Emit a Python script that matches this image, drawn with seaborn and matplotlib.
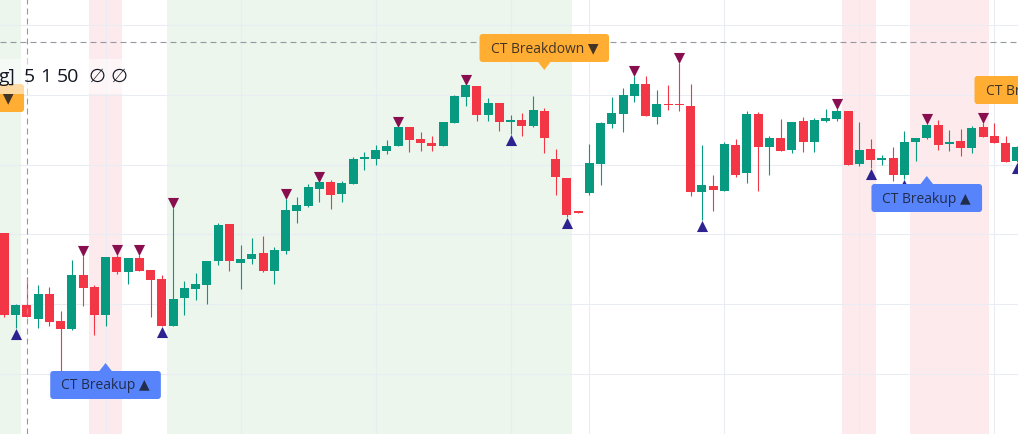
import matplotlib
matplotlib.use('Agg')
import numpy as np
import pandas as pd
import seaborn as sns
import matplotlib.pyplot as plt
import matplotlib.transforms as mtransforms
from matplotlib.patches import FancyBboxPatch, Polygon, Rectangle

# ---- data (arbitrary price units) ----
opens = [26.6, 18.4, 19.4, 18.0, 20.5, 17.8, 17.0, 22.4, 21.2, 18.4,
         24.2, 22.7, 24.1, 22.9, 22.0, 17.3, 20.1, 21.0, 21.4, 23.8,
         27.5, 23.6, 24.0, 24.6, 22.8, 24.8, 28.8, 29.3, 31.0, 31.7,
         30.5, 31.5, 34.0, 34.0, 34.8, 35.3, 37.2, 36.0, 35.6, 35.3,
         37.6, 40.2, 41.3, 38.4, 39.6, 37.7, 37.9, 37.3, 38.8, 34.0,
         32.1, 28.8, 30.6, 33.5, 37.5, 38.5, 40.3, 41.5, 38.2, 39.5,
         39.5, 39.3, 30.7, 31.3, 30.8, 35.4, 32.6, 38.5, 35.2, 36.1,
         34.9, 37.8, 35.7, 37.8, 38.0, 38.8, 33.5, 35.0, 33.9, 34.1,
         32.4, 35.7, 36.1, 37.4, 35.5, 35.8, 35.1, 37.2, 36.3, 35.6,
         33.8]
highs = [26.6, 19.5, 22.2, 21.4, 21.2, 18.8, 23.9, 24.3, 21.4, 24.2,
         24.4, 24.1, 24.4, 22.9, 22.4, 29.1, 21.8, 22.6, 23.8, 27.6,
         27.5, 25.4, 26.1, 26.3, 25.2, 30.0, 30.2, 31.5, 31.7, 31.9,
         31.8, 34.2, 34.7, 35.4, 35.9, 37.2, 37.2, 36.7, 36.3, 37.7,
         40.4, 41.4, 41.3, 40.1, 39.6, 38.4, 38.6, 40.3, 39.1, 35.0,
         32.1, 28.8, 35.5, 37.7, 40.2, 41.1, 42.3, 42.3, 40.9, 41.4,
         43.6, 41.5, 35.4, 32.4, 35.7, 36.0, 38.8, 38.7, 36.3, 38.0,
         37.7, 38.2, 38.1, 39.0, 39.0, 38.8, 37.7, 36.0, 34.4, 35.2,
         36.8, 36.1, 37.5, 37.9, 36.9, 37.0, 37.3, 37.6, 37.6, 36.3,
         35.3]
lows = [18.2, 17.1, 18.2, 17.1, 17.3, 12.6, 16.9, 19.3, 16.4, 17.3,
        22.5, 21.5, 22.8, 18.2, 17.3, 17.3, 18.4, 19.9, 19.5, 23.4,
        22.8, 21.0, 23.5, 22.7, 21.5, 24.5, 27.6, 29.2, 29.7, 29.0,
        29.7, 31.5, 32.9, 33.4, 34.5, 35.3, 34.7, 34.8, 34.8, 35.3,
        37.6, 39.3, 37.8, 37.8, 36.8, 36.5, 36.3, 37.2, 34.6, 30.4,
        28.2, 28.6, 30.4, 31.4, 37.1, 36.7, 39.7, 38.3, 37.5, 38.9,
        38.8, 30.3, 27.9, 28.8, 30.8, 32.2, 31.6, 30.8, 32.4, 34.8,
        34.6, 34.7, 34.7, 37.7, 37.8, 33.4, 33.3, 33.1, 33.4, 31.8,
        32.0, 33.8, 36.0, 34.9, 34.8, 34.3, 34.6, 36.2, 35.6, 33.7,
        33.7]
closes = [18.4, 19.4, 18.2, 20.5, 17.7, 17.0, 22.4, 21.1, 18.4, 24.2,
          22.7, 24.1, 22.8, 21.9, 17.3, 20.0, 21.1, 21.5, 23.8, 27.4,
          23.8, 24.0, 24.5, 22.8, 24.9, 28.9, 29.4, 31.2, 31.7, 30.4,
          31.6, 34.0, 34.2, 34.9, 35.3, 37.2, 35.9, 35.6, 35.3, 37.7,
          40.3, 41.4, 38.4, 39.6, 37.7, 37.9, 37.3, 38.9, 36.1, 32.2,
          28.4, 28.6, 33.6, 37.6, 38.6, 40.4, 41.5, 38.3, 39.5, 39.4,
          39.4, 30.7, 31.4, 30.9, 35.5, 32.4, 38.5, 35.2, 36.1, 34.8,
          37.7, 35.7, 37.9, 38.1, 38.8, 33.4, 34.9, 33.9, 34.1, 32.4,
          35.7, 36.1, 37.4, 35.4, 35.7, 35.1, 37.1, 36.2, 35.6, 33.7,
          35.2]

pivot_high_bars = [7, 10, 12, 15, 25, 28, 35, 41, 56, 60, 74, 82, 87]
pivot_low_bars = [1, 5, 14, 45, 50, 62, 77, 80, 90]

bull_zones = [(-1, 1.5), (14.5, 50.5)]
bear_zones = [(7.5, 10.5), (74.5, 77.5), (80.5, 87.5)]

breakdown_bars = [-4, 48, 92]
breakdown_prices = [37.9, 42.9, 38.7]
breakup_bars = [9, 82]
breakup_prices = [13.6, 32.3]

grid_bars = [9, 21, 33, 45, 52, 64, 76, 88]
grid_prices = [12.55, 19.55, 26.5, 33.45, 40.4, 47.4]
cross_bar = 2
cross_price = 45.7

legend_tokens = ['g]', '5', '1', '50', '\u2205', '\u2205']

# ---- style ----
W, H = 1018, 435
UP, DOWN = '#089981', '#f23645'
sns.set_theme(style='white')
plt.rcParams['font.family'] = ['Open Sans', 'DejaVu Sans']
plt.rcParams['lines.scale_dashes'] = False

df = pd.DataFrame({'open': opens, 'high': highs, 'low': lows, 'close': closes})
df['bar'] = np.arange(len(df))
df['up'] = df['close'] >= df['open']

fig = plt.figure(figsize=(W / 100, H / 100), dpi=100)
ax = fig.add_axes([0, 0, 1, 1])
ax.set_xlim(-0.382, 90.11)
ax.set_ylim(6.5, 50.0)
ax.axis('off')

for a, b in bull_zones:
    ax.axvspan(a, b, color='#4caf50', alpha=0.1, lw=0, zorder=0)
for a, b in bear_zones:
    ax.axvspan(a, b, color='#f23645', alpha=0.1, lw=0, zorder=0)

for gx in grid_bars:
    ax.axvline(gx, color='#e9ecf2', lw=0.75, zorder=0.5)
for gy in grid_prices:
    ax.axhline(gy, color='#e9ecf2', lw=0.75, zorder=0.5)

# signal triangles
sns.scatterplot(x=pivot_high_bars, y=[highs[i] + 0.5 for i in pivot_high_bars],
                marker='v', s=64, color='#880e4f', linewidth=0, ax=ax, zorder=2, legend=False)
sns.scatterplot(x=pivot_low_bars, y=[lows[i] - 0.6 for i in pivot_low_bars],
                marker='^', s=64, color='#2e2290', linewidth=0, ax=ax, zorder=2, legend=False)

# candles
cols = np.where(df['up'], UP, DOWN)
ax.vlines(df['bar'], df['low'], df['high'], colors=cols, lw=0.8, zorder=3)
body_lo = df[['open', 'close']].min(axis=1)
body_h = (df['close'] - df['open']).abs().clip(lower=0.12)
ax.bar(df['bar'], body_h, bottom=body_lo, width=0.8, color=cols, lw=0, zorder=3)

# crosshair
ax.axvline(cross_bar, color='#9598a1', lw=0.8, dashes=(4.3, 2.9), zorder=4)
ax.axhline(cross_price, color='#9598a1', lw=0.8, dashes=(4.3, 2.9), zorder=4)

renderer = fig.canvas.get_renderer()
BOX_H, GAP, PAD = 28, 8, 11


def draw_label(i, price, text, color, pointing):
    tr = mtransforms.Affine2D() + mtransforms.ScaledTranslation(i, price, ax.transData)
    sign = 1 if pointing == 'down' else -1
    cy = sign * (GAP + BOX_H / 2)
    t = ax.text(0, cy, text, transform=tr, ha='center', va='center', fontsize=10,
                color='#131722', alpha=0.8, zorder=6)
    w = t.get_window_extent(renderer).width + 2 * PAD
    ax.add_patch(FancyBboxPatch((-w / 2, cy - BOX_H / 2), w, BOX_H,
                                boxstyle='round,pad=0,rounding_size=3', transform=tr,
                                fc=color, ec='none', zorder=5))
    ax.add_patch(Polygon([(-7, sign * (GAP + 1)), (7, sign * (GAP + 1)), (0, 0)], closed=True,
                         transform=tr, fc=color, ec='none', zorder=5))


for i, p in zip(breakdown_bars, breakdown_prices):
    draw_label(i, p, 'CT Breakdown \u25bc', '#ffad33', 'down')
for i, p in zip(breakup_bars, breakup_prices):
    draw_label(i, p, 'CT Breakup \u25b2', '#5884fb', 'up')

# indicator legend (top left, pixel placed)
pix = mtransforms.Affine2D().scale(1, -1).translate(0, H)
ax.add_patch(Rectangle((0, 60), 125, 35, transform=pix, fc='white', alpha=0.55, ec='none', zorder=7))
for tok, x in zip(legend_tokens, [-1, 24, 40, 57, 88, 111]):
    ax.text(x, 77, tok, transform=pix, ha='left', va='center', fontsize=14,
            color='#131722', zorder=8)

fig.savefig('out.png', dpi=100)
